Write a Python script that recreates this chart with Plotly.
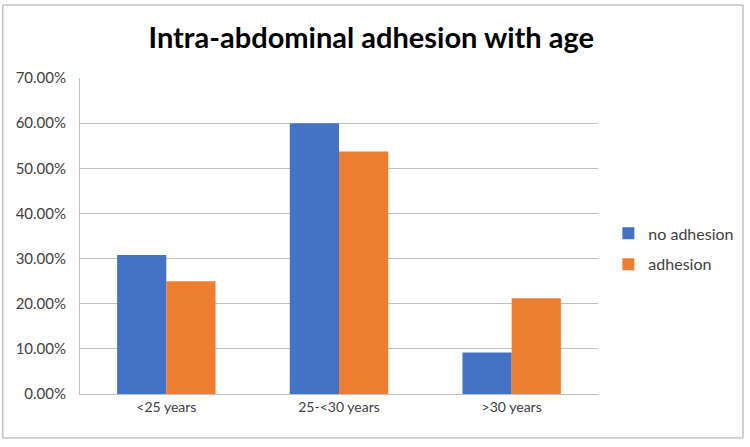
import plotly.graph_objects as go

categories = ["<25 years", "25-<30 years", ">30 years"]
no_adhesion = [0.308, 0.600, 0.092]
adhesion = [0.250, 0.537, 0.212]
series_names = ["no adhesion", "adhesion"]
colors = ["#4472C4", "#ED7D31"]

fig = go.Figure()
fig.add_trace(go.Bar(x=categories, y=no_adhesion, name=series_names[0], legendgroup="a",
                     marker=dict(color=colors[0], line=dict(width=0))))
fig.add_trace(go.Bar(x=categories, y=adhesion, name=series_names[1], legendgroup="b",
                     marker=dict(color=colors[1], line=dict(width=0))))

fig.update_layout(
    width=750, height=447,
    paper_bgcolor="white", plot_bgcolor="white",
    margin=dict(l=80, r=152, t=78, b=53, autoexpand=False),
    barmode="group", bargap=0.43, bargroupgap=0,
    font=dict(family="Lato, Open Sans, sans-serif", size=14, color="#595959"),
    title=dict(text="<b>Intra-abdominal adhesion with age</b>", x=0.495, xanchor="center", y=0.915, yanchor="middle",
               font=dict(size=29, color="#000000", family="Lato, Open Sans, sans-serif")),
    legend=dict(x=1.02, y=0.459, xanchor="left", yanchor="middle", font=dict(size=16, color="#404040"),
                itemsizing="constant", tracegroupgap=7, bgcolor="rgba(0,0,0,0)"),
    xaxis=dict(showline=True, linecolor="#BFBFBF", linewidth=1, ticks="", tickfont=dict(size=14, color="#404040")),
    yaxis=dict(range=[0, 0.7], dtick=0.1, tickformat=".2%", gridcolor="#BFBFBF", gridwidth=1,
               showline=True, linecolor="#BFBFBF", zeroline=False, tickfont=dict(size=15, color="#404040"),
               ticklabelstandoff=10),
    shapes=[dict(type="rect", xref="paper", yref="paper", x0=-0.149, x1=1.28, y0=-0.139, y1=1.231,
                 line=dict(color="#A6A6A6", width=1))],
)

fig.write_html("out.html")
